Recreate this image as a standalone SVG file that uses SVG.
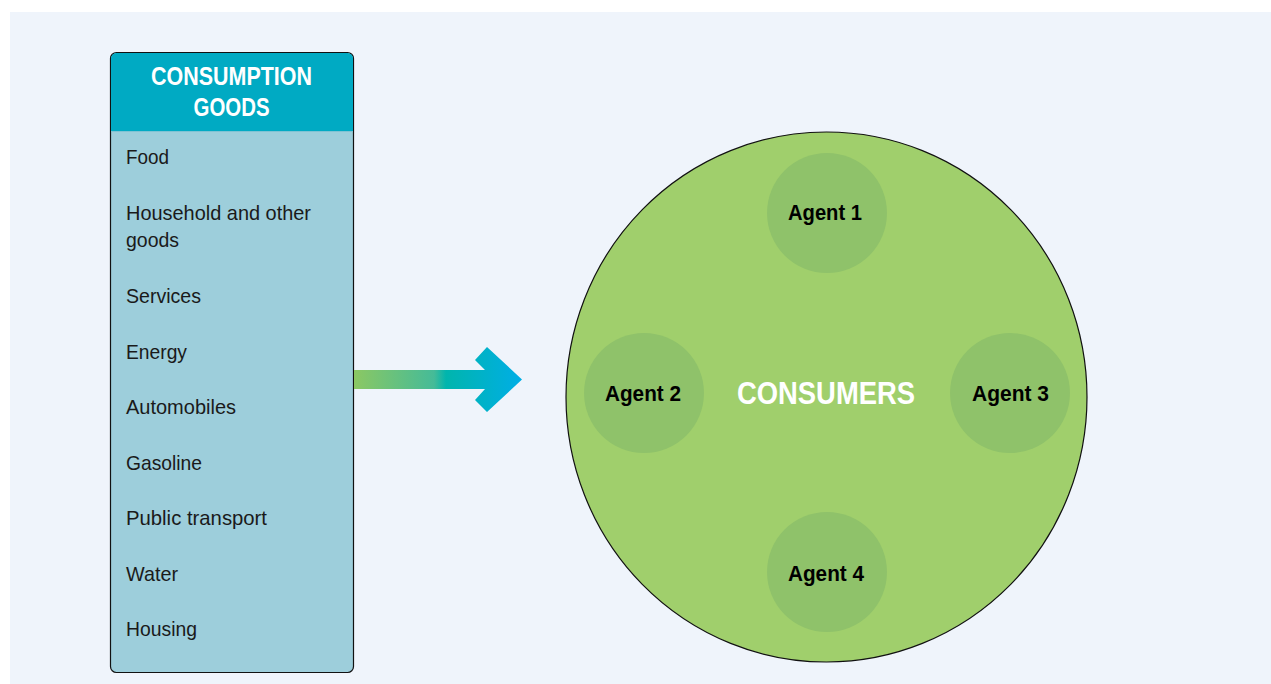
<svg xmlns="http://www.w3.org/2000/svg" width="1271" height="684" viewBox="0 0 1271 684">
<defs>
<linearGradient id="g" x1="353" y1="0" x2="522" y2="0" gradientUnits="userSpaceOnUse">
<stop offset="0" stop-color="#8cc862"/>
<stop offset="0.48" stop-color="#45bb98"/>
<stop offset="0.55" stop-color="#00b5ad"/>
<stop offset="1" stop-color="#00aee6"/>
</linearGradient>
<style>
.c{font-family:"Liberation Sans Narrow","Liberation Sans",Arial,sans-serif}
.item{font-size:21px;fill:#1a1a1a}
.hd{font-size:26px;font-weight:bold;fill:#fff;text-anchor:middle}
.ag{font-size:22px;font-weight:bold;fill:#000;text-anchor:middle}
.agc{fill:#8fc26a}
</style>
</defs>
<rect x="10" y="12" width="1261" height="672" fill="#eff4fb"/>
<g id="consumption-goods">
<rect x="110.5" y="52.5" width="243" height="620" rx="6" fill="#9dcedb" stroke="#111" stroke-width="1.2"/>
<path d="M111,131 V58.5 a5.5,5.5 0 0 1 5.5,-5.5 H347.5 a5.5,5.5 0 0 1 5.5,5.5 V131 Z" fill="#00aac3"/>
<line x1="111" y1="131.5" x2="353" y2="131.5" stroke="#7fc3d3" stroke-width="1"/>
<text class="c hd" x="231.5" y="85" textLength="161" lengthAdjust="spacingAndGlyphs">CONSUMPTION</text>
<text class="c hd" x="231.5" y="116" textLength="76" lengthAdjust="spacingAndGlyphs">GOODS</text>
<g class="c item">
<text x="126" y="163.5" textLength="43" lengthAdjust="spacingAndGlyphs">Food</text>
<text x="126" y="220" textLength="185" lengthAdjust="spacingAndGlyphs">Household and other</text>
<text x="126" y="247" textLength="53" lengthAdjust="spacingAndGlyphs">goods</text>
<text x="126" y="303" textLength="75" lengthAdjust="spacingAndGlyphs">Services</text>
<text x="126" y="358.5" textLength="61" lengthAdjust="spacingAndGlyphs">Energy</text>
<text x="126" y="414" textLength="110" lengthAdjust="spacingAndGlyphs">Automobiles</text>
<text x="126" y="469.5" textLength="76" lengthAdjust="spacingAndGlyphs">Gasoline</text>
<text x="126" y="525" textLength="141" lengthAdjust="spacingAndGlyphs">Public transport</text>
<text x="126" y="580.5" textLength="52" lengthAdjust="spacingAndGlyphs">Water</text>
<text x="126" y="636" textLength="71" lengthAdjust="spacingAndGlyphs">Housing</text>
</g>
</g>
<g id="connectors">
<path d="M354,370 H485 L475,360 L487,347 L522,379.5 L487,412 L475,400 L485,389 H354 Z" fill="url(#g)"/>
</g>
<g id="consumers">
<ellipse cx="826.5" cy="397" rx="260.5" ry="265" fill="#a0cf6c" stroke="#111" stroke-width="1.2"/>
<text class="c" x="826" y="403.5" font-size="31" font-weight="bold" fill="#fff" text-anchor="middle" textLength="178" lengthAdjust="spacingAndGlyphs">CONSUMERS</text>
</g>
<g id="agent-1"><circle class="agc" cx="827" cy="213" r="60"/><text class="c ag" x="825" y="220" textLength="74" lengthAdjust="spacingAndGlyphs">Agent 1</text></g>
<g id="agent-2"><circle class="agc" cx="644" cy="393" r="60"/><text class="c ag" x="643" y="401" textLength="76" lengthAdjust="spacingAndGlyphs">Agent 2</text></g>
<g id="agent-3"><circle class="agc" cx="1010" cy="393" r="60"/><text class="c ag" x="1010.5" y="401" textLength="77" lengthAdjust="spacingAndGlyphs">Agent 3</text></g>
<g id="agent-4"><circle class="agc" cx="827" cy="572" r="60"/><text class="c ag" x="826" y="581" textLength="76" lengthAdjust="spacingAndGlyphs">Agent 4</text></g>
</svg>
